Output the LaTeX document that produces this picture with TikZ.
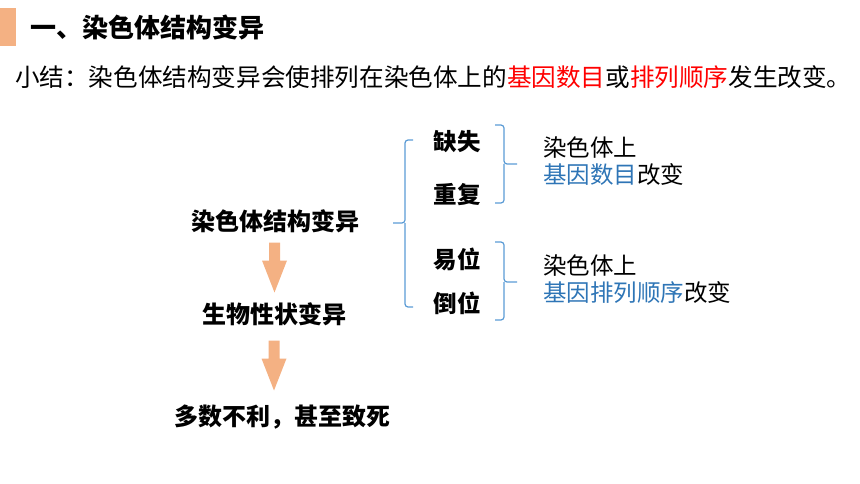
\documentclass[tikz,border=0pt]{standalone}
\usepackage{fontspec}
\setmainfont{Noto Sans CJK SC}
\usetikzlibrary{calc}
\definecolor{barorange}{RGB}{244,177,131}
\definecolor{braceblue}{RGB}{91,155,213}
\definecolor{noteblue}{RGB}{46,117,182}
\definecolor{keyred}{RGB}{255,0,0}
\tikzset{
    every node/.style={inner sep=0pt},
    titletext/.style={anchor=west, font=\fontsize{26}{30}\selectfont\bfseries},
    sumtext/.style={anchor=west, font=\fontsize{24.6}{30}\selectfont},
    chaintext/.style={font=\fontsize{24}{28}\selectfont\bfseries},
    typetext/.style={font=\fontsize{23.5}{28}\selectfont\bfseries},
    notetext/.style={anchor=west, align=left,
        font=\fontsize{23.5}{27}\selectfont},
    bracket/.style={draw=braceblue, line width=1.2pt, rounded corners=3pt},
    downarrow/.pic={
        \fill[barorange] (-5.5,-25) -- (5.5,-25) -- (5.5,-7) -- (12.5,-7)
            -- (0,25) -- (-12.5,-7) -- (-5.5,-7) -- cycle;
    },
}
\begin{document}
\begin{tikzpicture}[x=1pt, y=-1pt]
        \useasboundingbox (0,0) rectangle (860,484);
        \fill[barorange] (0,8) rectangle (16,46); % Title bar
        \node[titletext] (title) at (30,27) {一、染色体结构变异}; % Title
        \node[sumtext] (summary) at (15,77) {小结：染色体结构变异会使排列在染色体上的{\color{keyred}基因数目}或{\color{keyred}排列顺序}发生改变。};
            % Summary line
        \node[chaintext] (struct) at (275,221) {染色体结构变异};
        \node[chaintext] (trait) at (274,314) {生物性状变异};
        \node[chaintext] (death) at (282,417) {多数不利，甚至致死};
        \pic at ($(struct)!0.5!(trait)$) {downarrow}; % Upper arrow
        \path ($(trait)!0.5!(death)$) coordinate (midlow);
        \pic at (trait |- midlow) {downarrow}; % Lower arrow
        \node[typetext] (loss) at (457,142) {缺失};
        \node[typetext] (dup) at (457,195) {重复};
        \node[typetext] (trans) at (457,259) {易位};
        \node[typetext] (inv) at (457,303) {倒位};
        \coordinate (bigtop) at (413,140);
        \coordinate (bigbot) at (413,307);
        \coordinate (bigtip) at (393,223);
        \draw[bracket] (bigtop) -| ($(bigtip)+(12,0)$) -- (bigtip); % Left brace
        \draw[bracket] (bigbot) -| ($(bigtip)+(12,0)$);
        \coordinate (numtop) at (495,125);
        \coordinate (numbot) at (495,203);
        \coordinate (numtip) at (517,164);
        \draw[bracket] (numtop) -| ($(numtip)+(-13,0)$) -- (numtip); % Number brace
        \draw[bracket] (numbot) -| ($(numtip)+(-13,0)$);
        \coordinate (ordtop) at (495,242);
        \coordinate (ordbot) at (495,320);
        \coordinate (ordtip) at (517,282);
        \draw[bracket] (ordtop) -| ($(ordtip)+(-13,0)$) -- (ordtip); % Order brace
        \draw[bracket] (ordbot) -| ($(ordtip)+(-13,0)$);
        \node[notetext] (numnote) at (543,161.5)
            {染色体上\\{\color{noteblue}基因数目}改变};
        \node[notetext] (ordnote) at (543,279.5)
            {染色体上\\{\color{noteblue}基因排列顺序}改变};
    \end{tikzpicture}
\end{document}
